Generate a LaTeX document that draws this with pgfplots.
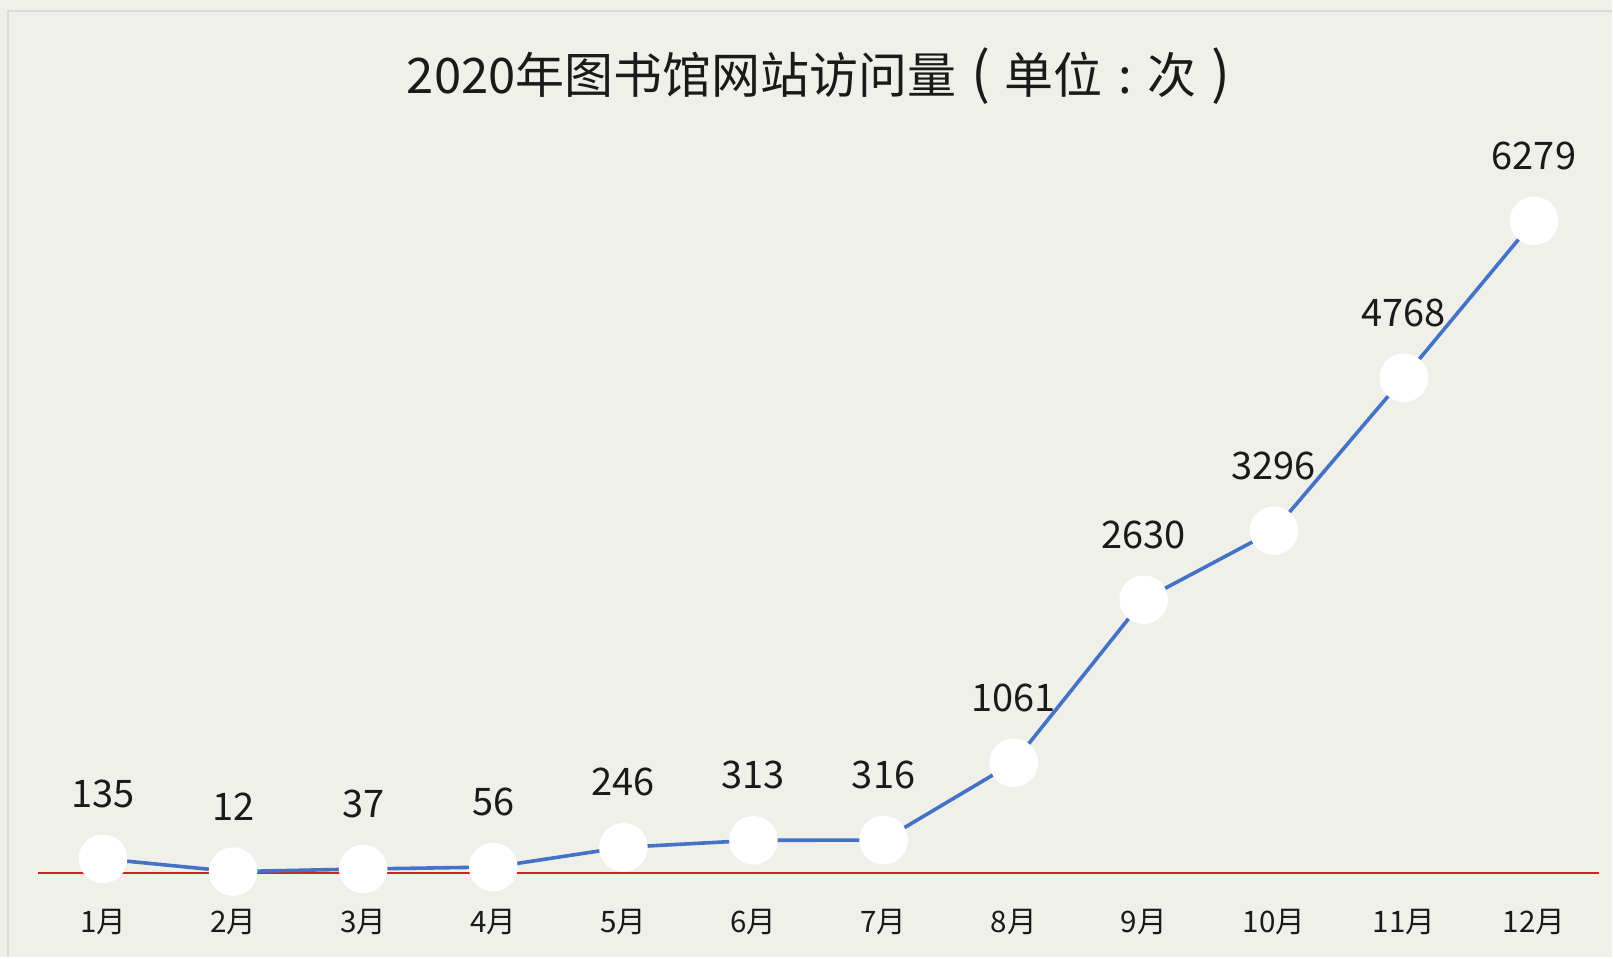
\documentclass[border=0pt]{standalone}
\usepackage{pgfplots}
\pgfplotsset{compat=1.18}
\usepackage{fontspec}
\setmainfont{Noto Sans CJK SC}
\definecolor{bg}{HTML}{F0F0EB}
\definecolor{bord}{HTML}{D9D9D6}
\definecolor{lineblue}{HTML}{4472C4}
\definecolor{axred}{HTML}{D42020}
\definecolor{txt}{HTML}{1A1A1A}
\begin{document}
\begin{tikzpicture}
% background: 1px = 0.5pt, axis lower-left at px (38, 873.4)
\fill[bg] (-19pt,-42.3pt) rectangle (787.5pt,436.7pt);
\draw[bord, line width=1pt] (-15pt,-42.3pt) -- (-15pt,431.2pt) -- (787.5pt,431.2pt);
\begin{axis}[
  at={(0pt,0pt)}, anchor=south west,
  scale only axis, width=781pt, height=363.7pt,
  xmin=-0.5, xmax=11.5, ymin=0, ymax=7000,
  axis lines=none, clip=false,
  xtick=\empty, ytick=\empty,
  title={2020年图书馆网站访问量\hspace{0.3em}{\fontsize{28pt}{30pt}\selectfont(}\hspace{0.3em}单位\hspace{0.32em}:\hspace{0.32em}次\hspace{0.3em}{\fontsize{28pt}{30pt}\selectfont)}},
  title style={font=\fontsize{24.5pt}{28pt}\selectfont, text=txt, at={(0.5,1)}, anchor=base, yshift=20pt},
]
\addplot[axred, line width=1pt, forget plot] coordinates {(-0.5,0) (11.5,0)};
\addplot[lineblue, line width=1.8pt, mark=*, mark size=11.25pt,
  mark options={fill=white, draw=white},
  nodes near coords, point meta=explicit symbolic,
  every node near coord/.append style={anchor=center, yshift=32.5pt, text=txt, font=\fontsize{19pt}{22pt}\selectfont}]
coordinates {
(0,135) [135]
(1,12) [12]
(2,37) [37]
(3,56) [56]
(4,246) [246]
(5,313) [313]
(6,316) [316]
(7,1061) [1061]
(8,2630) [2630]
(9,3296) [3296]
(10,4768) [4768]
(11,6279) [6279]
};
\end{axis}
\begin{axis}[
  at={(0pt,0pt)}, anchor=south west,
  scale only axis, width=781pt, height=363.7pt,
  xmin=-0.5, xmax=11.5, ymin=0, ymax=7000,
  hide y axis, axis x line*=bottom, x axis line style={draw=none},
  xtick={0,...,11}, major tick length=0pt,
  xticklabels={1月,2月,3月,4月,5月,6月,7月,8月,9月,10月,11月,12月},
  xticklabel style={font=\fontsize{14.8pt}{17pt}\selectfont, text=txt, anchor=center, yshift=-24.5pt},
]
\addplot[draw=none] coordinates {(0,0)};
\end{axis}
\end{tikzpicture}
\end{document}
